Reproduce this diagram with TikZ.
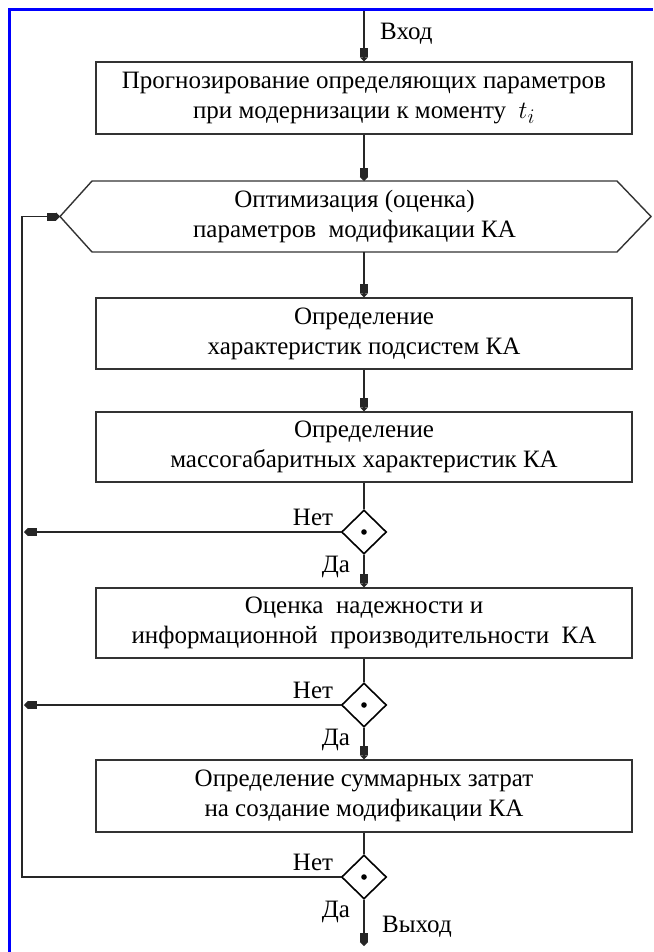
\documentclass[tikz,border=0pt]{standalone}
\usepackage{fontspec}
\setmainfont{Liberation Serif}
\usetikzlibrary{arrows.meta,shapes.geometric,calc}
\begin{document}
\begin{tikzpicture}[x=1pt,y=-1pt,
  txt/.style={font=\rmfamily\fontsize{25}{30}\selectfont},
  box/.style={txt, draw=black!80, line width=1.4pt, minimum width=536pt, align=center, inner sep=0pt},
  dec/.style={draw=black, line width=1.6pt, diamond, minimum width=45pt, minimum height=44pt, inner sep=0pt},
  flow/.style={line width=1.5pt, draw=black!85},
  arr/.style={flow, -{Rectangle[length=9pt,width=8pt]Triangle[length=4pt,width=8pt]}},
  lbl/.style={txt, inner sep=0pt}
]
\useasboundingbox (0,0) rectangle (653,952);
\fill[white] (0,0) rectangle (653,952);
\draw[blue, line width=3pt] (9.5,952) -- (9.5,9.5) -- (653,9.5);

\coordinate (in) at (364,11);
\node[box, minimum height=72pt] (b1) at (364,98) {Прогнозирование определяющих параметров\\при модернизации к моменту~ {\fontsize{30}{30}\selectfont$t_{i}$}};
% hexagon
\coordinate (hexL) at (60,216.5);
\coordinate (hexR) at (651,216.5);
\node[txt, align=center, minimum width=525pt, minimum height=71pt, inner sep=0pt] (hex) at (354.5,216.5) {Оптимизация (оценка)\\параметров~ модификации КА};
\draw[draw=black!80, line width=1.4pt] (hexL) -- (92,181) -- (617,181) -- (hexR) -- (617,252) -- (92,252) -- cycle;
\coordinate (hexT) at (364,181);
\coordinate (hexB) at (364,252);

\node[box, minimum height=71pt] (b2) at (364,333.5) {Определение\\характеристик подсистем КА};
\node[box, minimum height=70pt] (b3) at (364,447) {Определение\\массогабаритных характеристик КА};
\node[dec] (d1) at (364,532) {};
\fill (d1.center) circle (2.8pt);
\node[box, minimum height=70pt] (b4) at (364,623) {Оценка~ надежности и\\информационной~ производительности~ КА};
\node[dec] (d2) at (364,705) {};
\fill (d2.center) circle (2.8pt);
\node[box, minimum height=72pt] (b5) at (364,796) {Определение суммарных затрат\\на создание модификации КА};
\node[dec] (d3) at (364,877) {};
\fill (d3.center) circle (2.8pt);

\coordinate (out) at (364,946);
\coordinate (L1) at (24,532);
\coordinate (L2) at (24,705);
\coordinate (L3) at (22,877);
\coordinate (L0) at (22,216.5);

% main flow
\draw[arr] (in) -- (b1.north);
\draw[arr] (b1.south) -- (hexT);
\draw[arr] (hexB) -- (b2.north);
\draw[arr] (b2.south) -- (b3.north);
\draw[flow] (b3.south) -- (d1.north);
\draw[arr] (d1.south) -- (b4.north);
\draw[flow] (b4.south) -- (d2.north);
\draw[arr] (d2.south) -- (b5.north);
\draw[flow] (b5.south) -- (d3.north);
\draw[arr] (d3.south) -- (out);

% feedback
\draw[arr] (d1.west) -- (L1);
\draw[arr] (d2.west) -- (L2);
\draw[arr] (d3.west) -- (L3) -- (L0) -- (hexL);

% labels
\node[lbl, anchor=west] (vhod) at (380,34) {Вход};
\node[lbl, anchor=west] (vyhod) at (382,927) {Выход};
\node[lbl] (n1) at (313,517) {Нет};
\node[lbl] (y1) at (336,567) {Да};
\node[lbl] (n2) at (313,690) {Нет};
\node[lbl] (y2) at (336,740) {Да};
\node[lbl] (n3) at (313,862) {Нет};
\node[lbl] (y3) at (336,912) {Да};
\end{tikzpicture}
\end{document}
